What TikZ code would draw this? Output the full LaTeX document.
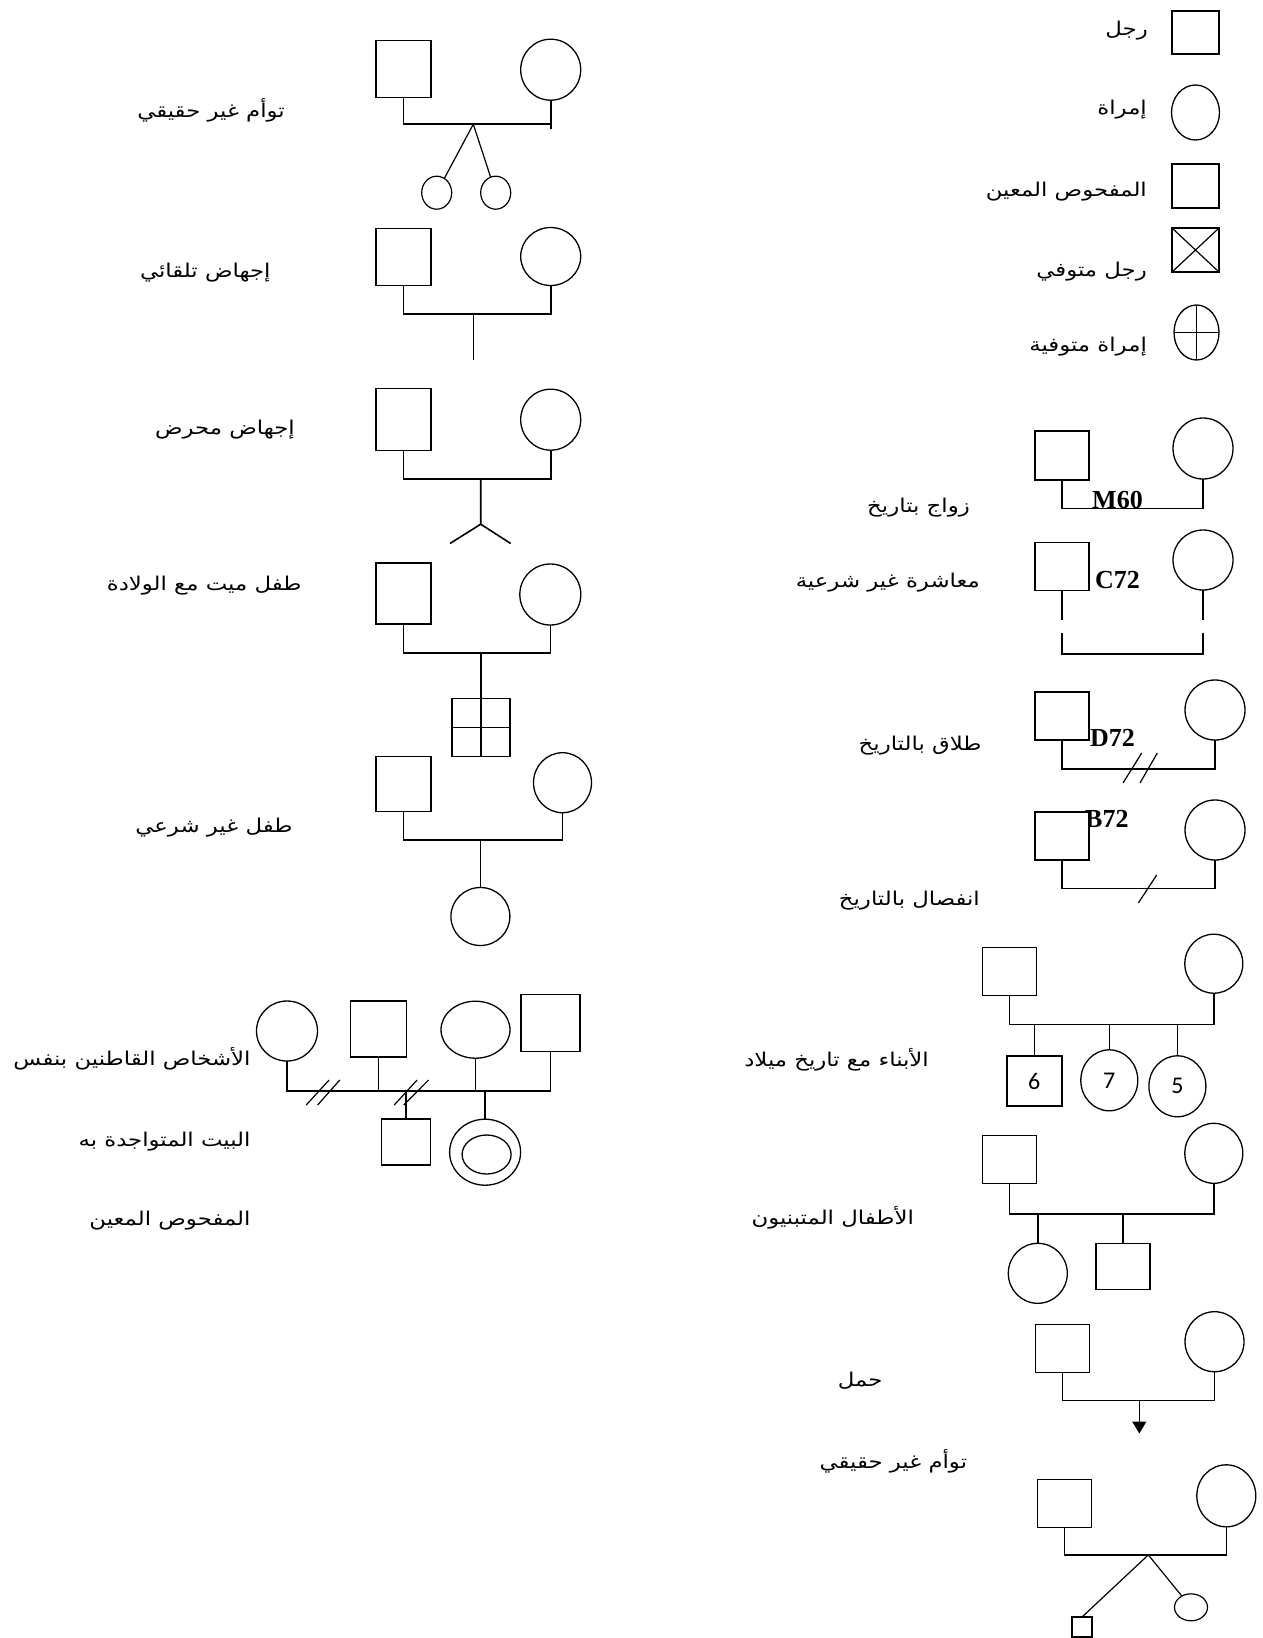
\documentclass[tikz,border=0pt]{standalone}
\usepackage{fontspec}
\usepackage{tikz}
\usetikzlibrary{arrows.meta,shapes.geometric,calc}
\newfontfamily\arabicfont[Script=Arabic,FakeStretch=1.2]{DejaVu Sans}
\newfontfamily\datefont{Liberation Serif}
\newfontfamily\numfont{Carlito}
\TeXXeTstate=1
\newcommand{\rtl}[1]{\beginR #1\endR}

\begin{document}
\begin{tikzpicture}[x=1pt,y=-1pt,
  man/.style={draw,fill=white,line width=1.4pt,inner sep=0pt,outer sep=0pt,
              minimum width=54pt,minimum height=48pt},
  woman/.style={draw,ellipse,fill=white,line width=1.3pt,inner sep=0pt,outer sep=0pt,
                minimum width=60pt,minimum height=60pt},
  lbl/.style={anchor=east,inner sep=0pt,yshift=-3pt,font=\arabicfont\fontsize{19}{22}\selectfont},
  dt/.style={anchor=base west,inner sep=0pt,font=\datefont\bfseries\fontsize{26}{28}\selectfont},
  num/.style={font=\numfont\fontsize{24}{26}\selectfont},
  ln/.style={line width=1.6pt},
  thin/.style={line width=1.2pt},
  tip/.style={-{Triangle[width=14pt,length=12pt]},line width=1.6pt}]
\useasboundingbox[fill=white] (0,0) rectangle (1262,1638);
\node[man,minimum width=47pt,minimum height=43pt] (lgM) at (1195.5,32.5) {};
\node[lbl] (txM) at (1148,28) {\rtl{رجل}};
\node[woman,minimum width=48pt,minimum height=55pt] (lgF) at (1195.5,112.5) {};
\node[lbl] (txF) at (1147,107) {\rtl{إمراة}};
\node[man,minimum width=47pt,minimum height=44pt] (lgP) at (1195.5,186) {};
\node[lbl] (txP) at (1147,189) {\rtl{المفحوص المعين}};
\node[man,minimum width=47pt,minimum height=44pt] (lgD) at (1195.5,250) {};
\draw[thin] (lgD.north west) -- (lgD.south east) (lgD.south west) -- (lgD.north east);
\node[lbl] (txD) at (1147,269) {\rtl{رجل متوفي}};
\node[woman,minimum width=45pt,minimum height=55pt] (lgW) at (1196.5,332.5) {};
\draw[ln] (lgW.north) -- (lgW.south) (lgW.west) -- (lgW.east);
\node[lbl] (txW) at (1147,344) {\rtl{إمراة متوفية}};

\node[man,minimum height=49pt] (f1) at (1062,455.5) {};
\node[woman,minimum height=61pt] (m1) at (1203,448.5) {};
\draw[ln] (f1.south) -- ++(0,28.3) -| (m1.south);
\node[dt] (d1) at (1092,508) {M60};
\node[lbl] (tx1) at (970,505) {\rtl{زواج بتاريخ}};

\node[man] (f2) at (1062,566.7) {};
\node[woman] (m2) at (1203,560) {};
\draw[ln] (f2.south) -- ++(0,29) (m2.south) -- ++(0,30);
\draw[ln] (f2.south) ++(0,42) -- ++(0,21) -| ($(m2.south)+(0,43)$);
\node[dt] (d2) at (1095,588) {C72};
\node[lbl] (tx2) at (980,580) {\rtl{معاشرة غير شرعية}};

\node[man] (f3) at (1062,716) {};
\node[woman] (m3) at (1215,710) {};
\draw[ln] (f3.south) -- ++(0,29) -| (m3.south);
\coordinate (cut3) at (1140,768);
\draw[thin] ($(cut3)+(-17,15)$) -- ++(18.7,-30) ($(cut3)+(0,15)$) -- ++(17.3,-30);
\node[dt] (d3) at (1090,746) {D72};
\node[lbl] (tx3) at (981.7,743) {\rtl{طلاق بالتاريخ}};

\node[dt] (d4) at (1085,827) {B72};
\node[man] (f4) at (1062,836) {};
\node[woman] (m4) at (1215,830) {};
\draw[ln] (f4.south) -- ++(0,28.3) -| (m4.south);
\coordinate (cut4) at (1147.5,889);
\draw[thin] ($(cut4)+(-9.2,14)$) -- ++(18.4,-28);
\node[lbl] (tx4) at (980,898) {\rtl{انفصال بالتاريخ}};

\node[man] (f5) at (1009.3,971.2) {};
\node[woman,minimum width=58pt,minimum height=59pt] (m5) at (1213.8,963.7) {};
\draw[ln] (f5.south) -- ++(0,29.3) coordinate (bar5) -| (m5.south);
\node[man,num,minimum width=55pt,minimum height=50pt] (c51) at (1034.3,1081) {6};
\node[woman,num,minimum width=57pt,minimum height=61pt] (c52) at (1109.3,1080.3) {7};
\node[woman,num,minimum width=57pt,minimum height=61pt] (c53) at (1177.4,1086.3) {5};
\draw[ln] (c51.north) -- (c51.north |- bar5) (c52.north) -- (c52.north |- bar5)
          (c53.north) -- (c53.north |- bar5);
\node[lbl] (tx5) at (929,1057) {\rtl{الأبناء مع تاريخ ميلاد}};

\node[man] (f6) at (1009.3,1159.2) {};
\node[woman,minimum width=58pt] (m6) at (1213.8,1153.3) {};
\draw[ln] (f6.south) -- ++(0,30.7) coordinate (bar6) -| (m6.south);
\node[woman,minimum width=59pt] (c61) at (1037.8,1273.3) {};
\node[man,minimum height=46pt] (c62) at (1122.9,1266.3) {};
\draw[ln] (c61.north) -- (c61.north |- bar6) (c62.north) -- (c62.north |- bar6);
\node[lbl] (tx6) at (914,1215) {\rtl{الأطفال المتبنيون}};

\node[man] (f7) at (1062.5,1348.5) {};
\node[woman,minimum width=59pt] (m7) at (1214.5,1341.7) {};
\draw[ln] (f7.south) -- ++(0,28) -| (m7.south);
\path (f7.south) ++(76.8,28) coordinate (preg);
\draw[tip] (preg) -- ++(0,33);
\node[lbl] (tx7) at (882.7,1378) {\rtl{حمل}};
\node[lbl] (tx8) at (967.3,1458) {\rtl{توأم غير حقيقي}};

\node[man] (f8) at (1064.5,1503.2) {};
\node[woman,minimum width=59pt,minimum height=62pt] (m8) at (1226.3,1495.8) {};
\draw[ln] (f8.south) -- ++(0,27.7) -| (m8.south);
\path (f8.south) ++(83.8,27.7) coordinate (tw8);
\node[man,thin,minimum width=20pt,minimum height=20pt] (t81) at (1082,1627) {};
\node[woman,thin,minimum width=33pt,minimum height=27pt] (t82) at (1191,1607.3) {};
\draw[thin] (tw8) -- (t81.north) (tw8) -- (t82);

\node[man,minimum width=55pt,minimum height=57pt] (f9) at (403.3,68.7) {};
\node[woman,minimum height=61pt] (m9) at (550.7,69.7) {};
\draw[ln] (f9.south) -- ++(0,27) coordinate (bar9) -| ($(m9.south)+(0,29)$) -- (m9.south);
\path (bar9) ++(70,0) coordinate (tw9);
\node[woman,thin,minimum width=30pt,minimum height=33pt] (t91) at (436.7,192.7) {};
\node[woman,thin,minimum width=30pt,minimum height=33pt] (t92) at (495.7,192.7) {};
\draw[thin] (tw9) -- (t91) (tw9) -- (t92);
\node[lbl] (tx9) at (285,107) {\rtl{توأم غير حقيقي}};

\node[man,minimum width=55pt,minimum height=57pt] (f10) at (403.3,256.7) {};
\node[woman,minimum height=58pt] (m10) at (550.7,256.5) {};
\draw[ln] (f10.south) -- ++(0,29) coordinate (bar10) -| (m10.south);
\draw[ln] ($(bar10)+(70,0)$) -- ++(0,46);
\node[lbl] (tx10) at (270.7,270) {\rtl{إجهاض تلقائي}};

\node[man,minimum width=55pt,minimum height=62pt] (f11) at (403.3,419.2) {};
\node[woman,minimum height=61pt] (m11) at (550.7,419.7) {};
\draw[ln] (f11.south) -- ++(0,28.7) coordinate (bar11) -| (m11.south);
\draw[ln] ($(bar11)+(77.4,0)$) -- ++(0,45.3) coordinate (ab11) -- ++(-30.7,19.3)
          (ab11) -- ++(30,19.3);
\node[lbl] (tx11) at (295,427) {\rtl{إجهاض محرض}};

\node[man,minimum width=55pt,minimum height=61pt] (f12) at (403.3,593.3) {};
\node[woman,minimum width=61pt,minimum height=61pt] (m12) at (550.3,594.5) {};
\draw[ln] (f12.south) -- ++(0,29.3) coordinate (bar12) -| (m12.south);
\node[man,minimum width=58pt,minimum height=58pt] (c12) at (480.8,727.5) {};
\draw[ln] (c12.north) -- (c12.south) (c12.west) -- (c12.east) (c12.north) -- (c12.north |- bar12);
\node[lbl] (tx12) at (301.7,583) {\rtl{طفل ميت مع الولادة}};

\node[man,minimum width=55pt,minimum height=55pt] (f13) at (403.3,784.2) {};
\node[woman,minimum width=58pt] (m13) at (562.5,782.7) {};
\draw[ln] (f13.south) -- ++(0,28.3) coordinate (bar13) -| (m13.south);
\node[woman,minimum width=59pt,minimum height=58pt] (c13) at (480.4,916.5) {};
\draw[ln] (c13.north) -- (c13.north |- bar13);
\node[lbl] (tx13) at (292.7,825) {\rtl{طفل غير شرعي}};

\node[woman,minimum width=61pt] (h1) at (287,1031) {};
\node[man,minimum width=56pt,minimum height=56pt] (h2) at (378.3,1028.8) {};
\node[woman,minimum width=69pt,minimum height=57pt] (h3) at (475.5,1029.7) {};
\node[man,minimum width=59pt,minimum height=57pt] (h4) at (550.5,1023) {};
\draw[ln] (h1.south) -- ++(0,29.7) coordinate (hbar) -| (h4.south);
\draw[ln] (h2.south) -- (h2.south |- hbar) (h3.south) -- (h3.south |- hbar);
\coordinate (hcut1) at (323,1092);
\coordinate (hcut2) at (411.5,1092);
\draw[thin] ($(hcut1)+(-16.8,13)$) -- ++(22.9,-25) ($(hcut1)+(-5.4,13)$) -- ++(22.2,-25)
            ($(hcut2)+(-17.3,13)$) -- ++(22.9,-25) ($(hcut2)+(-7.8,13)$) -- ++(24.9,-25);
\node[man,minimum width=49pt,minimum height=46pt] (hc1) at (406,1142) {};
\node[woman,minimum width=71pt,minimum height=66pt] (hc2) at (485.1,1152.2) {};
\node[woman,minimum width=49pt,minimum height=39pt] (hc2i) at (486.6,1154.5) {};
\draw[ln] (hc1.north) -- (hc1.north |- hbar) (hc2.north) -- (hc2.north |- hbar);
\node[lbl] (txh1) at (250.7,1056) {\rtl{الأشخاص القاطنين بنفس}};
\node[lbl] (txh2) at (250.7,1139) {\rtl{البيت المتواجدة به}};
\node[lbl] (txh3) at (250.7,1218) {\rtl{المفحوص المعين}};
\end{tikzpicture}
\end{document}
